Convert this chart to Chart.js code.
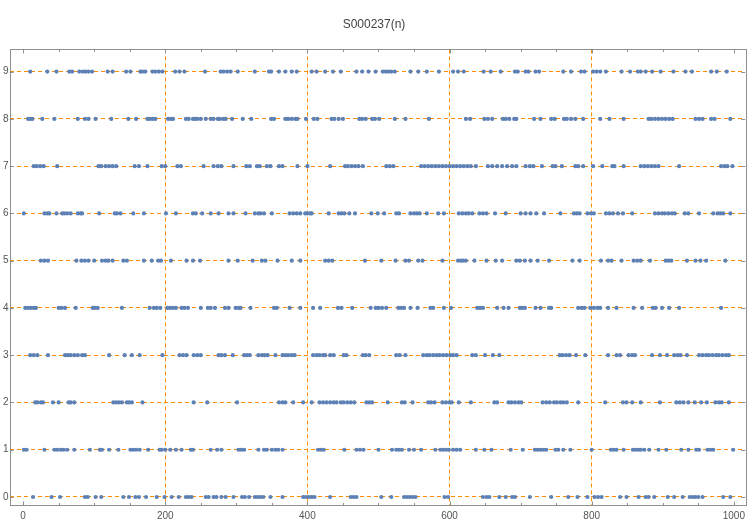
<!DOCTYPE html>
<html>
<head>
<meta charset="utf-8">
<script src="https://cdn.jsdelivr.net/npm/chart.js@4/dist/chart.umd.min.js"></script>
<style>
  html, body { margin: 0; padding: 0; background: #fff; }
  #wrap { width: 750px; height: 524px; }
</style>
</head>
<body>
<div id="wrap"><canvas id="c" width="750" height="524"></canvas></div>
<script>
// n positions where the digit S000237(n) takes each value
const n0 = [14, 40, 52, 87, 91, 102, 110, 141, 149, 158, 163, 173, 188, 199, 209, 219, 229, 233, 237, 257, 261, 268, 272, 279, 285, 296, 308, 312, 318, 326, 330, 334, 338, 348, 365, 394, 398, 402, 406, 410, 432, 461, 465, 469, 504, 518, 536, 540, 544, 548, 552, 593, 598, 647, 652, 656, 670, 679, 688, 692, 713, 743, 767, 780, 794, 804, 809, 814, 840, 849, 866, 876, 880, 888, 907, 916, 928, 938, 942, 946, 950, 956, 985, 995];
const n1 = [1, 5, 30, 44, 48, 53, 57, 62, 72, 94, 108, 111, 121, 134, 151, 155, 159, 164, 176, 192, 195, 200, 207, 215, 223, 236, 239, 264, 273, 279, 303, 307, 311, 331, 339, 343, 350, 355, 359, 365, 415, 419, 423, 452, 469, 474, 479, 500, 519, 525, 529, 533, 543, 550, 560, 580, 587, 591, 595, 599, 605, 610, 615, 637, 649, 659, 686, 703, 720, 724, 728, 732, 736, 749, 753, 760, 770, 800, 827, 831, 835, 845, 858, 862, 866, 869, 874, 881, 894, 905, 926, 936, 947, 951, 963, 967, 971, 999];
const n2 = [17, 20, 25, 28, 42, 50, 64, 67, 72, 127, 131, 135, 139, 146, 149, 153, 168, 240, 259, 301, 360, 365, 369, 380, 394, 406, 417, 422, 427, 432, 437, 441, 447, 451, 456, 461, 466, 483, 487, 491, 513, 533, 537, 548, 570, 574, 579, 590, 595, 600, 603, 613, 630, 663, 667, 683, 687, 692, 697, 701, 731, 736, 741, 747, 751, 756, 760, 765, 781, 819, 844, 849, 857, 869, 896, 919, 924, 929, 936, 945, 954, 962, 974, 979, 983, 993];
const n3 = [10, 15, 20, 35, 59, 63, 67, 72, 77, 83, 87, 121, 143, 153, 164, 196, 220, 225, 230, 240, 245, 250, 275, 279, 284, 295, 311, 315, 319, 331, 336, 340, 344, 355, 365, 369, 373, 378, 382, 408, 413, 417, 422, 425, 432, 437, 451, 455, 478, 482, 487, 525, 530, 538, 563, 568, 572, 577, 582, 586, 591, 596, 601, 605, 610, 632, 637, 650, 661, 670, 755, 759, 764, 769, 778, 791, 823, 835, 840, 852, 857, 861, 885, 896, 906, 916, 921, 925, 934, 951, 956, 961, 965, 970, 975, 979, 984, 989, 993];
const n4 = [3, 7, 11, 15, 18, 50, 54, 59, 74, 98, 101, 105, 139, 178, 184, 188, 193, 203, 207, 211, 215, 223, 227, 232, 250, 260, 264, 270, 284, 289, 299, 303, 306, 320, 353, 357, 375, 390, 408, 418, 443, 448, 463, 489, 496, 500, 505, 511, 528, 532, 536, 545, 555, 573, 577, 592, 602, 639, 643, 647, 667, 676, 683, 699, 702, 706, 721, 728, 740, 743, 781, 786, 790, 798, 803, 808, 812, 823, 835, 859, 871, 886, 890, 899, 909, 923, 982];
const n5 = [25, 30, 35, 75, 82, 87, 92, 100, 111, 116, 120, 126, 141, 146, 170, 181, 190, 194, 208, 230, 239, 249, 289, 302, 323, 336, 341, 358, 378, 390, 425, 430, 435, 481, 504, 524, 538, 543, 556, 562, 590, 612, 616, 619, 623, 635, 652, 665, 674, 694, 699, 706, 714, 724, 740, 773, 783, 813, 823, 828, 842, 859, 864, 869, 882, 904, 908, 912, 934, 946, 953, 961, 988];
const n6 = [1, 30, 34, 37, 47, 55, 58, 62, 67, 77, 81, 83, 107, 129, 132, 137, 155, 170, 201, 215, 239, 243, 252, 264, 275, 289, 296, 313, 326, 331, 334, 339, 350, 375, 380, 385, 390, 397, 400, 404, 406, 430, 444, 448, 452, 459, 467, 490, 499, 508, 525, 529, 545, 550, 554, 558, 568, 584, 592, 613, 618, 623, 627, 632, 642, 647, 652, 664, 679, 700, 707, 714, 722, 733, 756, 775, 779, 783, 794, 799, 803, 820, 825, 830, 837, 844, 857, 889, 894, 899, 903, 908, 913, 917, 931, 936, 951, 971, 977, 981, 985, 995];
const n7 = [15, 19, 24, 29, 48, 106, 110, 116, 121, 126, 131, 157, 163, 175, 195, 200, 217, 222, 254, 268, 274, 279, 296, 314, 319, 329, 333, 343, 348, 360, 365, 386, 400, 432, 453, 457, 462, 467, 472, 478, 511, 516, 521, 560, 565, 570, 575, 580, 585, 590, 595, 600, 605, 610, 615, 620, 625, 630, 637, 654, 660, 667, 674, 681, 688, 694, 707, 713, 718, 730, 745, 749, 758, 777, 781, 788, 802, 815, 829, 832, 845, 869, 874, 879, 884, 889, 894, 923, 982, 987, 991, 998];
const n8 = [7, 10, 13, 27, 44, 77, 87, 92, 102, 124, 148, 159, 175, 178, 182, 186, 204, 208, 211, 229, 233, 239, 242, 245, 250, 257, 264, 268, 274, 277, 282, 285, 294, 309, 321, 349, 353, 369, 373, 378, 383, 386, 398, 409, 414, 434, 438, 444, 450, 473, 477, 482, 491, 495, 501, 523, 538, 571, 623, 629, 649, 654, 660, 675, 679, 684, 691, 694, 719, 728, 743, 748, 761, 765, 771, 777, 788, 812, 825, 845, 880, 884, 889, 894, 899, 904, 909, 914, 946, 951, 956, 968, 973, 995];
const n9 = [10, 34, 47, 65, 69, 79, 84, 88, 92, 97, 119, 126, 145, 151, 165, 168, 172, 182, 186, 191, 196, 214, 220, 227, 256, 278, 282, 287, 292, 302, 326, 346, 349, 360, 369, 378, 385, 406, 413, 425, 436, 447, 469, 477, 486, 496, 506, 510, 514, 518, 523, 545, 556, 568, 585, 605, 612, 620, 648, 658, 672, 692, 696, 707, 711, 721, 726, 760, 771, 785, 790, 802, 807, 812, 820, 842, 854, 865, 869, 876, 885, 897, 915, 932, 941, 968, 976, 990];

const rows = [n0, n1, n2, n3, n4, n5, n6, n7, n8, n9];
const xTicks = [0, 200, 400, 600, 800, 1000];
const xMinor = [50, 100, 150, 250, 300, 350, 450, 500, 550, 650, 700, 750, 850, 900, 950];
const yTicks = [0, 1, 2, 3, 4, 5, 6, 7, 8, 9];
const xGrid = [200, 400, 600, 800];

const points = [];
rows.forEach((ns, d) => ns.forEach((n) => points.push({ x: n, y: d })));

const ORANGE = "#ff8c00";
const FRAME = "#8f8f8f";
const TEXT = "#555";

// Mathematica-style frame with inward ticks
const framePlugin = {
  id: "frame",
  afterDatasetsDraw(chart) {
    const { ctx, chartArea: a, scales } = chart;
    ctx.save();
    ctx.strokeStyle = FRAME;
    ctx.lineWidth = 1;
    ctx.strokeRect(Math.round(a.left) + 0.5, Math.round(a.top) + 0.5,
      Math.round(a.right - a.left), Math.round(a.bottom - a.top));
    const tick = (v, len) => {
      const px = Math.round(scales.x.getPixelForValue(v)) + 0.5;
      ctx.beginPath();
      ctx.moveTo(px, a.bottom);
      ctx.lineTo(px, a.bottom - len);
      ctx.moveTo(px, a.top);
      ctx.lineTo(px, a.top + len);
      ctx.stroke();
    };
    xTicks.forEach((v) => tick(v, 4));
    xMinor.forEach((v) => tick(v, 2.5));
    yTicks.forEach((v) => {
      const py = Math.round(scales.y.getPixelForValue(v)) + 0.5;
      ctx.beginPath();
      ctx.moveTo(a.left, py);
      ctx.lineTo(a.left + 4, py);
      ctx.moveTo(a.right, py);
      ctx.lineTo(a.right - 4, py);
      ctx.stroke();
    });
    ctx.restore();
  },
};

new Chart(document.getElementById("c").getContext("2d"), {
  type: "scatter",
  data: {
    datasets: [{
      data: points,
      backgroundColor: "#5e81b5",
      borderWidth: 0,
      pointRadius: 2.1,
      pointHoverRadius: 2.1,
    }],
  },
  options: {
    responsive: false,
    animation: false,
    layout: { padding: { left: 0, right: 2, top: 0, bottom: 0 } },
    plugins: {
      legend: { display: false },
      tooltip: { enabled: false },
      title: {
        display: true,
        text: "S000237(n)",
        color: "#444",
        font: { family: "Liberation Sans", size: 12, weight: "normal" },
        padding: { top: 17, bottom: 18 },
      },
    },
    scales: {
      x: {
        type: "linear",
        min: -19,
        max: 1016,
        afterBuildTicks: (s) => { s.ticks = xTicks.map((v) => ({ value: v })); },
        afterFit: (s) => { s.height = 18.5; },
        border: { display: false, dash: [4, 3] },
        grid: {
          color: (c) => (xGrid.includes(c.tick.value) ? ORANGE : "rgba(0,0,0,0)"),
          lineWidth: 1,
          drawTicks: false,
        },
        ticks: {
          color: TEXT,
          padding: 5,
          font: { family: "Liberation Sans", size: 10 },
          maxRotation: 0,
          callback: (v) => String(v),
        },
      },
      y: {
        type: "linear",
        min: -0.18,
        max: 9.47,
        afterBuildTicks: (s) => { s.ticks = yTicks.map((v) => ({ value: v })); },
        afterFit: (s) => { s.width = 9.6; },
        border: { display: false, dash: [4, 3] },
        grid: {
          color: ORANGE,
          lineWidth: 1,
          drawTicks: false,
        },
        ticks: {
          color: TEXT,
          padding: 1,
          font: { family: "Liberation Sans", size: 10 },
          callback: (v) => String(v),
        },
      },
    },
  },
  plugins: [framePlugin],
});
</script>
</body>
</html>
